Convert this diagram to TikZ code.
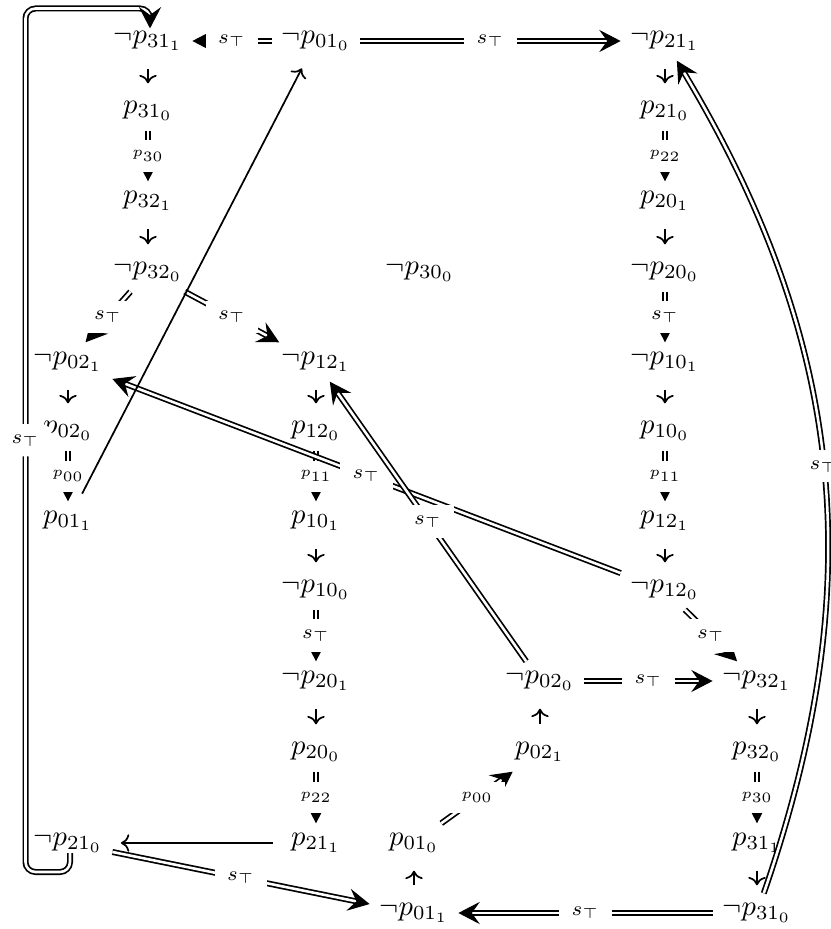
\documentclass[tikz,border=0pt]{standalone}
\usetikzlibrary{arrows.meta,calc}
\begin{document}
\begin{tikzpicture}[x=0.35pt,y=-0.35pt, line width=0.6pt,
  nd/.style={inner sep=3.5pt, outer sep=0pt},
  lbl/.style={fill=white, inner xsep=4.3pt, inner ysep=3.6pt, font=\scriptsize},
  tl/.style={fill=white, inner xsep=4.3pt, inner ysep=3.6pt, font=\tiny},
  dbl/.style={double, double distance=0.9pt, -{Stealth[length=7.5pt, width=7.8pt, inset=2.8pt, line width=0.4pt]}},
  sar/.style={-{To}, shorten <=2.8pt, shorten >=2.8pt},
  lar/.style={-{To}, shorten <=3pt, shorten >=3pt},
]
\useasboundingbox (0,0) rectangle (830,929);
% row 1
\node[nd] (n3111) at (148,41) {$\neg p_{31_1}$};
\node[nd] (n0110) at (316,41) {$\neg p_{01_0}$};
\node[nd] (n2111) at (665,41) {$\neg p_{21_1}$};
% row 2
\node[nd] (p310) at (148,111) {$p_{31_0}$};
\node[nd] (p210) at (665,111) {$p_{21_0}$};
% row 3
\node[nd] (p321) at (148,201) {$p_{32_1}$};
\node[nd] (p201) at (665,201) {$p_{20_1}$};
% row 4
\node[nd] (n320) at (148,272) {$\neg p_{32_0}$};
\node[nd] (n300) at (420,272) {$\neg p_{30_0}$};
\node[nd] (n200) at (665,272) {$\neg p_{20_0}$};
% row 5
\node[nd] (n021) at (68,362) {$\neg p_{02_1}$};
\node[nd] (n121) at (316,362) {$\neg p_{12_1}$};
\node[nd] (n101) at (665,362) {$\neg p_{10_1}$};
% row 6
\node[nd] (p020) at (68,431) {$p_{02_0}$};
\node[nd] (p120) at (316,431) {$p_{12_0}$};
\node[nd] (p100) at (665,431) {$p_{10_0}$};
% row 7
\node[nd] (p011) at (68,521) {$p_{01_1}$};
\node[nd] (p101) at (316,521) {$p_{10_1}$};
\node[nd] (p121) at (665,521) {$p_{12_1}$};
% row 8
\node[nd] (n100) at (316,590) {$\neg p_{10_0}$};
\node[nd] (n120) at (665,590) {$\neg p_{12_0}$};
% row 9
\node[nd] (n201) at (316,681) {$\neg p_{20_1}$};
\node[nd] (n020) at (540,681) {$\neg p_{02_0}$};
\node[nd] (n321) at (757,681) {$\neg p_{32_1}$};
% row 10
\node[nd] (p200) at (316,752) {$p_{20_0}$};
\node[nd] (p021) at (540,752) {$p_{02_1}$};
\node[nd] (p320) at (757,752) {$p_{32_0}$};
% row 11
\node[nd] (n210) at (68,843) {$\neg p_{21_0}$};
\node[nd] (p211) at (316,843) {$p_{21_1}$};
\node[nd] (p010) at (414,843) {$p_{01_0}$};
\node[nd] (p311) at (757,843) {$p_{31_1}$};
% row 12
\node[nd] (n011) at (414,913) {$\neg p_{01_1}$};
\node[nd] (n310) at (757,913) {$\neg p_{31_0}$};

% short single arrows
\draw[sar] (n3111) -- (p310);
\draw[sar] (p321) -- (n320);
\draw[sar] (n2111) -- (p210);
\draw[sar] (p201) -- (n200);
\draw[sar] (n101) -- (p100);
\draw[sar] (p121) -- (n120);
\draw[sar] (n021) -- (p020);
\draw[sar] (n121) -- (p120);
\draw[sar] (p101) -- (n100);
\draw[sar] (n201) -- (p200);
\draw[sar] (n321) -- (p320);
\draw[sar] (p311) -- (n310);
\draw[sar] (n011) -- (p010);
\draw[sar] (p021) -- (n020);

% double arrows
\draw[dbl] (n0110) -- node[lbl]{$s_\top$} (n3111);
\draw[dbl] (n0110) -- node[lbl]{$s_\top$} (n2111);
\draw[dbl] (p310) -- node[tl]{$p_{30}$} (p321);
\draw[dbl] (p210) -- node[tl]{$p_{22}$} (p201);
\draw[dbl] (n200) -- node[lbl]{$s_\top$} (n101);
\draw[dbl] (p100) -- node[tl]{$p_{11}$} (p121);
\draw[dbl] (n320) -- node[lbl]{$s_\top$} (n021);
\draw[dbl] (n320) -- node[lbl]{$s_\top$} (n121);
\draw[dbl] (p020) -- node[tl]{$p_{00}$} (p011);
\draw[dbl] (p120) -- node[tl]{$p_{11}$} (p101);
\draw[dbl] (n100) -- node[lbl]{$s_\top$} (n201);
\draw[dbl] (p200) -- node[tl]{$p_{22}$} (p211);
\draw[dbl] (n120) -- node[lbl]{$s_\top$} (n021);
\draw[dbl] (n020) -- node[lbl]{$s_\top$} (n121);
\draw[dbl] (n120) -- node[lbl]{$s_\top$} (n321);
\draw[dbl] (n020) -- node[lbl]{$s_\top$} (n321);
\draw[dbl] (p320) -- node[tl]{$p_{30}$} (p311);
\draw[dbl] (n310) -- node[lbl]{$s_\top$} (n011);
\draw[dbl] (n210) -- node[lbl]{$s_\top$} (n011);
\draw[dbl] (p010) -- node[tl]{$p_{00}$} (p021);
\draw[dbl] (n310) to[bend right=25] node[lbl]{$s_\top$} (n2111);
% loop
\coordinate (lp1) at (25.5,872);
\coordinate (lp2) at (25.5,8.5);
\draw[dbl, rounded corners=3.5pt, shorten >=-2.5pt]
  ([xshift=0.7pt,yshift=-3.5pt]n210.center) |- (lp1) -- node[lbl]{$s_\top$} (lp2) -| ([xshift=0.7pt]n3111.north);

% long single arrows
\draw[lar] (p011) -- (n0110);
\draw[lar] (p211) -- (n210);
\end{tikzpicture}
\end{document}
